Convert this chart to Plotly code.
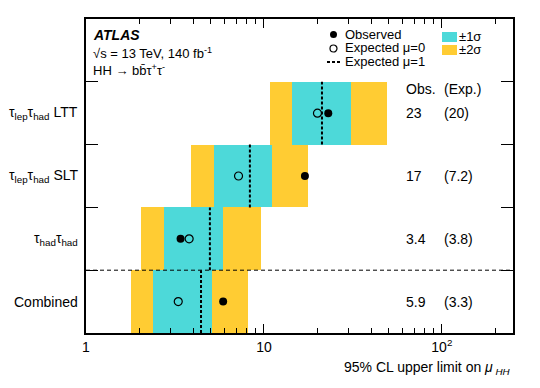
"""
HH -> bbtautau upper limits on mu_HH per channel, ATLAS style.
"""

import plotly.graph_objects as go

channels = ['Combined', 'τ<sub>had</sub>τ<sub>had</sub>',
            'τ<sub>lep</sub>τ<sub>had</sub> SLT', 'τ<sub>lep</sub>τ<sub>had</sub> LTT']
row_pos = [0.5, 1.5, 2.5, 3.5]
observed = [5.9, 3.4, 17, 23]
expected_mu0 = [3.3, 3.8, 7.2, 20]
expected_mu1 = [4.43, 4.97, 8.34, 21.2]
band1_lo = [2.38, 2.74, 5.22, 14.4]
band1_hi = [5.08, 5.89, 11.1, 30.8]
band2_lo = [1.78, 2.05, 3.89, 10.8]
band2_hi = [8.10, 9.58, 17.7, 49.1]
obs_text = ['5.9', '3.4', '17', '23']
exp_text = ['(3.3)', '(3.8)', '(7.2)', '(20)']

cyan = '#4dd9d9'
yellow = '#ffcc33'
font = 'Liberation Sans, Arial, sans-serif'

W, H = 540, 388
L, R, T, B = 86, 513, 19, 333


def px(x):
    return (x - L) / (R - L)


def py(y):
    return (B - y) / (B - T)


def label(x, y, text, size=14, anchor='left', xref='paper', yref='paper'):
    return dict(x=x, xref=xref, y=y, yref=yref, text=text, xanchor=anchor,
                yanchor='middle', showarrow=False, font=dict(size=size))


fig = go.Figure()

# bands
fig.add_trace(go.Bar(
    y=row_pos, x=[h - l for l, h in zip(band2_lo, band2_hi)], base=band2_lo,
    orientation='h', width=1, marker_color=yellow, marker_line_width=0,
    showlegend=False
))
fig.add_trace(go.Bar(
    y=row_pos, x=[h - l for l, h in zip(band1_lo, band1_hi)], base=band1_lo,
    orientation='h', width=1, marker_color=cyan, marker_line_width=0,
    showlegend=False
))

# expected mu=1 dashed lines
xs, ys = [], []
for e, r in zip(expected_mu1, row_pos):
    xs += [e, e, None]
    ys += [r - 0.5, r + 0.5, None]
fig.add_trace(go.Scatter(
    x=xs, y=ys, mode='lines',
    line=dict(color='black', width=2, dash='3px,2px'), showlegend=False
))

fig.add_trace(go.Scatter(
    x=expected_mu0, y=row_pos, mode='markers',
    marker=dict(symbol='circle-open', size=8, color='black',
                line=dict(width=1.2)),
    showlegend=False
))
fig.add_trace(go.Scatter(
    x=observed, y=row_pos, mode='markers',
    marker=dict(symbol='circle', size=8, color='black'),
    showlegend=False
))

# separator between combined and channels
fig.add_shape(type='line', xref='paper', yref='y', x0=0, x1=1, y0=1, y1=1,
              line=dict(color='black', width=1, dash='4px,3px'))

ann = []
for name, r in zip(channels, row_pos):
    a = label(0, r, name, anchor='right', yref='y')
    a['xshift'] = -6
    ann.append(a)
for o, e, r in zip(obs_text, exp_text, row_pos):
    ann.append(label(px(404), r, o, yref='y'))
    ann.append(label(px(442), r, e, yref='y'))
ann.append(label(px(404), py(89), 'Obs.'))
ann.append(label(px(442), py(89), '(Exp.)'))

# ATLAS label
ann.append(label(px(91), py(35), '<b><i>ATLAS</i></b>'))
ann.append(label(px(91), py(53), '√s = 13 TeV, 140 fb<sup>-1</sup>', 13))
ann.append(label(px(91), py(70),
                 'HH → bb\u0304τ<sup>+</sup>τ<sup>-</sup>', 13))

# legend
for txt, yy in [('Observed', 34), ('Expected μ=0', 48), ('Expected μ=1', 62)]:
    ann.append(label(px(343), py(yy), txt, 13))
for txt, yy in [('±1σ', 36), ('±2σ', 50)]:
    ann.append(label(px(457), py(yy), txt, 13))

ann.append(label(1, py(368),
                 '95% CL upper limit on <i>μ</i><sub><i> HH</i></sub>',
                 14, anchor='right'))

shapes = [
    dict(type='circle', xref='paper', yref='paper', x0=px(330), x1=px(337),
         y0=py(38), y1=py(31), fillcolor='black', line=dict(width=0)),
    dict(type='circle', xref='paper', yref='paper', x0=px(330), x1=px(337),
         y0=py(52), y1=py(45), line=dict(color='black', width=1.2)),
    dict(type='line', xref='paper', yref='paper', x0=px(327), x1=px(342),
         y0=py(62), y1=py(62), line=dict(color='black', width=2, dash='3px,2px')),
    dict(type='rect', xref='paper', yref='paper', x0=px(442), x1=px(457),
         y0=py(42), y1=py(32), fillcolor=cyan, line=dict(width=0)),
    dict(type='rect', xref='paper', yref='paper', x0=px(442), x1=px(457),
         y0=py(55), y1=py(45), fillcolor=yellow, line=dict(width=0)),
]
for s in shapes:
    fig.add_shape(**s)

fig.update_layout(
    width=W, height=H,
    margin=dict(l=L, r=W - R, t=T, b=H - B),
    plot_bgcolor='white', paper_bgcolor='white',
    barmode='overlay', bargap=0,
    font=dict(family=font, color='black', size=14),
    annotations=ann,
    showlegend=False
)
fig.update_xaxes(
    type='log', range=[0, 2.4],
    tickvals=[1, 10, 100], ticktext=['1', '10', '10<sup>2</sup>'],
    ticks='inside', ticklen=9, tickwidth=1, tickcolor='black',
    minor=dict(tickvals=[2, 3, 4, 5, 6, 7, 8, 9, 20, 30, 40, 50, 60, 70,
                         80, 90, 200],
               ticks='inside', ticklen=5, tickcolor='black'),
    showline=True, linecolor='black', linewidth=1.5, mirror='ticks',
    showgrid=False, zeroline=False, tickfont=dict(size=14)
)
fig.update_yaxes(
    range=[0, 5], tickvals=[1, 2, 3, 4], ticktext=['', '', '', ''],
    ticks='inside', ticklen=12, tickcolor='black',
    showline=True, linecolor='black', linewidth=1.5, mirror='ticks',
    showgrid=False, zeroline=False
)

fig.write_html("out.html", config={'displayModeBar': False},
               post_script="document.body.style.margin='0px';")
